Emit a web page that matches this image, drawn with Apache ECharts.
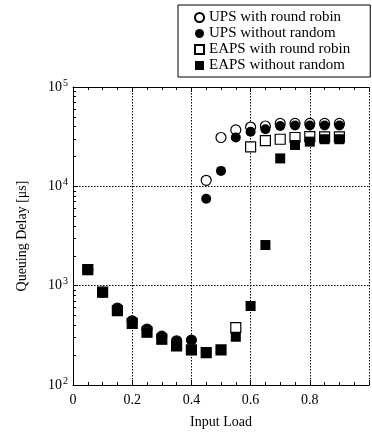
<!DOCTYPE html>
<html>
<head>
<meta charset="utf-8">
<script src="https://cdn.jsdelivr.net/npm/echarts@6/dist/echarts.min.js"></script>
<style>html,body{margin:0;padding:0;background:#fff;}#c{width:372px;height:434px;}</style>
</head>
<body>
<div id="c"></div>
<script>
var loads = [0.05,0.1,0.15,0.2,0.25,0.3,0.35,0.4,0.45,0.5,0.55,0.6,0.65,0.7,0.75,0.8,0.85,0.9];
var upsRoundRobin = [1450,860,595,443,366,310,279,283,11500,31000,37000,39500,40500,43000,43000,43000,43000,43000];
var upsWithoutRandom = [1450,860,590,440,363,308,277,283,7500,14300,31000,35500,37500,40500,41000,41000,41000,41000];
var eapsRoundRobin = [1450,860,560,418,340,289,248,226,212,226,378,25000,28800,29800,31000,31600,31500,31500];
var eapsWithoutRandom = [1450,857,558,417,339,288,247,225,211,225,306,624,2565,19100,26100,28200,29800,29800];
var seriesNames = ['UPS with round robin','UPS without random','EAPS with round robin','EAPS without random'];
var xTicks = [0,0.2,0.4,0.6,0.8];
var yMinorTicks = [200,300,400,500,600,700,800,900,2000,3000,4000,5000,6000,7000,8000,9000,20000,30000,40000,50000,60000,70000,80000,90000];

var FONT = '"Liberation Serif","Times New Roman",serif';
function pairs(v){ return loads.map(function(x,i){ return [x, v[i]]; }); }
var chart = echarts.init(document.getElementById('c'));
var grid = {left:73, top:87, width:301, height:298};
var xCommon = {
  type:'value', min:0, max:1, interval:0.2,
  axisLine:{show:true, lineStyle:{color:'#000', width:1}},
  axisTick:{show:true, inside:true, length:5, lineStyle:{color:'#000'}},
  minorTick:{show:true, splitNumber:4, length:3, lineStyle:{color:'#000'}},
};
chart.setOption({
  animation:false,
  backgroundColor:'#fff',
  textStyle:{fontFamily:FONT},
  grid:grid,
  legend:{
    orient:'vertical', left:178, top:5,
    padding:[5,20,4,16], itemGap:1, itemWidth:9, itemHeight:9,
    borderColor:'#000', borderWidth:1, backgroundColor:'#fff',
    textStyle:{fontFamily:FONT, fontSize:15, color:'#000', lineHeight:15},
    data:seriesNames
  },
  xAxis:[
    Object.assign({}, xCommon, {
      position:'bottom',
      name:'Input Load', nameLocation:'middle', nameGap:30,
      nameTextStyle:{fontFamily:FONT, fontSize:14, color:'#000'},
      axisLabel:{show:true, color:'#000', fontFamily:FONT, fontSize:14, margin:8,
        formatter:function(v){ return xTicks.indexOf(Math.round(v*10)/10) >= 0 ? String(Math.round(v*10)/10) : ''; }},
      splitLine:{show:true, lineStyle:{color:'#000', type:[1.5,1.5], width:1}}
    }),
    Object.assign({}, xCommon, {
      position:'top', axisLabel:{show:false}, splitLine:{show:false}
    })
  ],
  yAxis:[
    {
      type:'log', logBase:10, min:100, max:100000,
      name:'Queuing Delay [\u03bcs]', nameLocation:'middle', nameGap:44,
      nameTextStyle:{fontFamily:FONT, fontSize:14, color:'#000'},
      axisLine:{show:true, lineStyle:{color:'#000', width:1}},
      axisTick:{show:true, inside:true, length:5, lineStyle:{color:'#000'}},
      axisLabel:{color:'#000', margin:5,
        formatter:function(v){ var e = Math.round(Math.log10(v)); return '{b|10}{s|' + e + '}'; },
        rich:{
          b:{fontFamily:FONT, fontSize:14, color:'#000'},
          s:{fontFamily:FONT, fontSize:10, color:'#000', padding:[0,0,8,1]}
        }
      },
      splitLine:{show:true, lineStyle:{color:'#000', type:[1.5,1.5], width:1}}
    },
    {
      type:'log', logBase:10, min:100, max:100000, position:'left',
      axisLine:{show:false}, axisLabel:{show:false}, splitLine:{show:false},
      axisTick:{show:true, inside:true, length:3, customValues:yMinorTicks, lineStyle:{color:'#000'}}
    }
  ],
  series:[
    {name:seriesNames[0], type:'scatter', symbol:'circle', symbolSize:10, data:pairs(upsRoundRobin),
     itemStyle:{color:'#fff', borderColor:'#000', borderWidth:1.2, opacity:1}},
    {name:seriesNames[1], type:'scatter', symbol:'circle', symbolSize:10, data:pairs(upsWithoutRandom),
     itemStyle:{color:'#000', borderColor:'#000', borderWidth:0, opacity:1}},
    {name:seriesNames[2], type:'scatter', symbol:'rect', symbolSize:10, data:pairs(eapsRoundRobin),
     itemStyle:{color:'#fff', borderColor:'#000', borderWidth:1.2, opacity:1}},
    {name:seriesNames[3], type:'scatter', symbol:'rect', symbolSize:10, data:pairs(eapsWithoutRandom),
     itemStyle:{color:'#000', borderColor:'#000', borderWidth:0, opacity:1}}
  ]
});
</script>
</body>
</html>
